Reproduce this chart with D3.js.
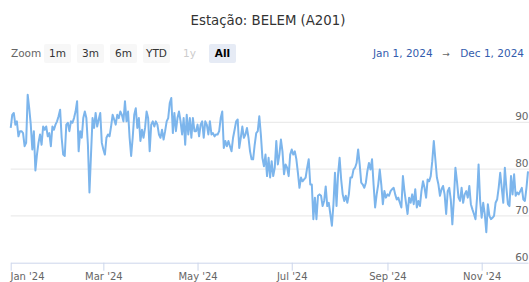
<!DOCTYPE html>
<html>
<head>
<script src="https://d3js.org/d3.v7.min.js"></script>
<style>
  body { margin: 0; background: #fff; }
  text { font-family: "DejaVu Sans", sans-serif; }
</style>
</head>
<body>
<svg id="chart" width="529" height="282"></svg>
<script>
// daily values, Jan 1 2024 .. Dec 1 2024
const startDate = new Date(2024, 0, 1);
const endDate = new Date(2024, 11, 1);
const values = [
  88.8, 91.6, 92.0, 89.5, 90.2, 87.0, 88.1, 88.1, 87.7, 84.9,
  85.6, 95.9, 93.0, 89.5, 84.2, 88.1, 79.7, 83.1, 85.6, 87.4,
  85.2, 89.1, 88.4, 89.1, 87.0, 87.7, 84.9, 89.1, 88.4, 89.5,
  90.2, 91.3, 92.7, 86.7, 83.1, 82.8, 89.5, 89.9, 88.1, 90.2,
  89.9, 90.9, 92.3, 94.5, 83.8, 88.1, 86.7, 90.9, 92.3, 90.9,
  85.2, 75.0, 83.1, 90.9, 88.8, 92.0, 89.1, 90.6, 92.0, 85.6,
  84.2, 83.1, 86.7, 87.4, 87.0, 89.1, 91.6, 90.6, 89.5, 91.6,
  90.9, 92.3, 91.6, 90.2, 94.5, 90.2, 92.3, 86.7, 82.8, 86.7,
  91.6, 93.0, 88.8, 90.9, 86.0, 88.4, 86.7, 88.8, 92.3, 90.9,
  83.8, 89.5, 90.2, 89.1, 90.2, 89.5, 87.4, 86.7, 88.4, 86.3,
  88.1, 90.2, 90.9, 94.1, 95.2, 87.7, 92.0, 88.1, 90.9, 92.3,
  90.2, 87.4, 90.9, 85.2, 91.6, 87.4, 90.9, 86.7, 90.9, 88.1,
  88.1, 89.5, 87.0, 89.5, 90.2, 86.7, 90.2, 89.5, 87.4, 90.2,
  87.4, 87.7, 87.0, 87.4, 87.4, 88.1, 90.9, 92.3, 84.5, 86.0,
  84.9, 86.0, 84.9, 83.8, 86.7, 88.4, 90.2, 90.6, 84.5, 86.7,
  89.1, 86.7, 87.4, 88.8, 86.7, 83.8, 82.1, 82.1, 85.2, 87.7,
  88.1, 91.3, 87.4, 82.4, 80.6, 83.1, 78.5, 82.4, 78.2, 81.7,
  78.5, 80.3, 86.0, 81.0, 83.1, 86.3, 83.8, 78.9, 81.0, 80.3,
  78.5, 83.1, 84.2, 83.1, 83.8, 82.1, 79.2, 76.0, 78.2, 77.4,
  77.8, 78.2, 80.3, 82.1, 76.7, 76.7, 69.3, 73.9, 69.3, 74.3,
  74.6, 74.3, 72.1, 73.2, 76.3, 72.1, 72.8, 70.4, 67.9, 72.5,
  79.2, 72.1, 78.9, 82.4, 77.8, 74.6, 73.2, 74.3, 72.8, 74.6,
  78.2, 78.2, 79.9, 80.3, 81.3, 84.2, 81.0, 77.1, 76.7, 76.0,
  77.1, 79.6, 81.3, 79.9, 82.1, 76.7, 71.8, 74.6, 76.7, 79.9,
  76.7, 72.5, 75.3, 73.9, 74.6, 74.3, 75.3, 75.7, 76.0, 74.6,
  73.5, 73.9, 72.8, 71.8, 78.5, 75.3, 72.8, 70.4, 73.9, 72.8,
  74.6, 72.5, 75.7, 71.8, 73.2, 72.1, 75.3, 77.4, 76.0, 73.9,
  77.8, 77.4, 78.5, 81.7, 86.0, 82.1, 78.2, 76.7, 74.3, 75.7,
  76.4, 74.6, 70.4, 75.3, 76.0, 73.5, 68.2, 73.5, 80.3, 77.4,
  73.9, 73.2, 76.0, 72.8, 74.6, 75.3, 73.9, 76.4, 72.5, 71.4,
  70.4, 69.3, 73.9, 81.0, 73.2, 69.6, 72.8, 70.4, 66.5, 72.5,
  70.0, 69.3, 69.6, 70.0, 72.8, 73.5, 76.0, 79.2, 76.0, 72.8,
  80.3, 76.0, 72.5, 72.1, 78.5, 74.6, 78.9, 74.3, 75.0, 74.6,
  75.3, 76.0, 73.5, 73.2, 76.0, 79.5
];
const yTicks = [60, 70, 80, 90];
const xTickDates = [
  new Date(2024, 0, 1), new Date(2024, 2, 1), new Date(2024, 4, 1),
  new Date(2024, 6, 1), new Date(2024, 8, 1), new Date(2024, 10, 1)
];
const buttons = ["1m", "3m", "6m", "YTD", "1y", "All"];
const title = "Estação: BELEM (A201)";

const svg = d3.select("#chart");

const data = values.map((v, i) => ({ date: d3.timeDay.offset(startDate, i), value: v }));

const x = d3.scaleTime().domain([startDate, endDate]).range([10.7, 528]);
const y = d3.scaleLinear().domain([60, 90]).range([262.7, 122.3]);

// title
svg.append("text")
  .attr("x", 268).attr("y", 25)
  .attr("text-anchor", "middle")
  .style("font-size", "13.3px")
  .style("fill", "#333")
  .text(title);

// range selector
svg.append("text")
  .attr("x", 11).attr("y", 57)
  .style("font-size", "10.5px")
  .style("fill", "#666")
  .text("Zoom");

const btn = svg.append("g").selectAll("g")
  .data(buttons)
  .join("g")
  .attr("transform", (d, i) => `translate(${44 + i * 33},44)`);
btn.append("rect")
  .attr("width", 27).attr("height", 19).attr("rx", 2)
  .attr("fill", d => d === "All" ? "#e6ebf5" : (d === "1y" ? "#fff" : "#f7f7f7"));
btn.append("text")
  .attr("x", 13.5).attr("y", 13)
  .attr("text-anchor", "middle")
  .style("font-size", "10.5px")
  .style("font-weight", d => d === "All" ? "bold" : "normal")
  .style("fill", d => d === "All" ? "#000" : (d === "1y" ? "#ccc" : "#333"))
  .text(d => d);

const fmt = d3.timeFormat("%b %-d, %Y");
svg.append("text")
  .attr("x", 373).attr("y", 57)
  .style("font-size", "10.5px").style("fill", "#335cad")
  .text(fmt(startDate));
svg.append("text")
  .attr("x", 446).attr("y", 57)
  .attr("text-anchor", "middle")
  .style("font-size", "9px").style("fill", "#666")
  .text("→");
svg.append("text")
  .attr("x", 524).attr("y", 57)
  .attr("text-anchor", "end")
  .style("font-size", "10.5px").style("fill", "#335cad")
  .text(fmt(endDate));

// gridlines
svg.append("g").selectAll("line")
  .data(yTicks.filter(t => t !== 60))
  .join("line")
  .attr("x1", 10.7).attr("x2", 529)
  .attr("y1", d => y(d)).attr("y2", d => y(d))
  .attr("stroke", "#e6e6e6").attr("stroke-width", 1);

// x axis
const xAxis = d3.axisBottom(x)
  .tickValues(xTickDates)
  .tickSize(8)
  .tickSizeOuter(0)
  .tickFormat(d3.timeFormat("%b '%y"));
const gx = svg.append("g")
  .attr("transform", "translate(0,262.7)")
  .call(xAxis);
gx.select(".domain").attr("stroke", "#ccd6eb");
gx.selectAll(".tick line").attr("stroke", "#ccd6eb");
gx.selectAll(".tick text")
  .attr("y", 17.3)
  .attr("dy", null)
  .style("font-family", "DejaVu Sans, sans-serif")
  .style("font-size", "10px")
  .style("fill", "#666")
  .attr("text-anchor", (d, i) => i === 0 ? "start" : "middle")
  .attr("x", (d, i) => i === 0 ? -0.7 : 0);

// line
const line = d3.line()
  .x(d => x(d.date))
  .y(d => y(d.value));
svg.append("path")
  .datum(data)
  .attr("d", line)
  .attr("fill", "none")
  .attr("stroke", "#7cb5ec")
  .attr("stroke-width", 2)
  .attr("stroke-linejoin", "round");

// y labels, inside on the right
svg.append("g").selectAll("text")
  .data(yTicks)
  .join("text")
  .attr("x", 528.5)
  .attr("y", d => y(d) - 2)
  .attr("text-anchor", "end")
  .style("font-size", "10.5px")
  .style("fill", "#666")
  .text(d => d);
</script>
</body>
</html>
